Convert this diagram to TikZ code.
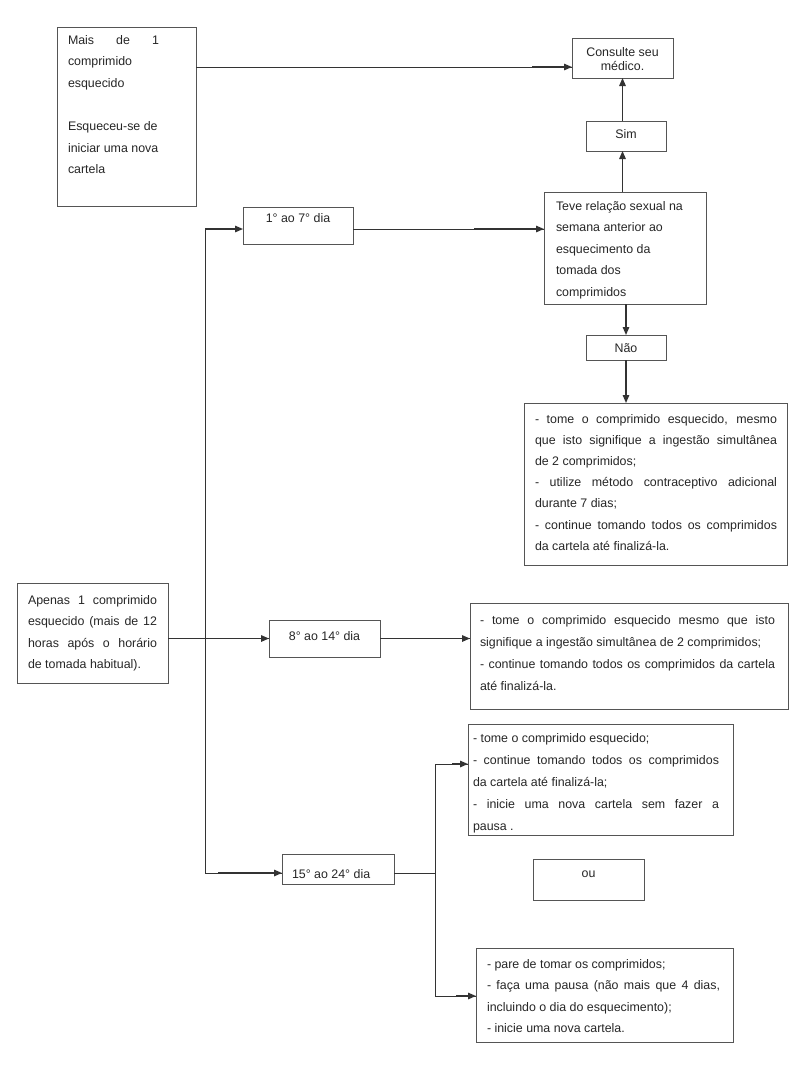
\documentclass[tikz,border=0pt]{standalone}
\usepackage{fontspec}
\setmainfont{Liberation Sans}
\usetikzlibrary{arrows.meta,calc}
\definecolor{txt}{HTML}{262626}
\definecolor{bord}{HTML}{555555}
\definecolor{lnc}{HTML}{333333}
% #1 box width, #2 box height, #3 left pad, #4 text width, #5 first baseline, #6 text
\newcommand\bxl[6]{\parbox[c][#2pt][t]{#1pt}{\hspace*{#3pt}\parbox[t]{#4pt}{\rule{0pt}{#5pt}#6}}}
\tikzset{
  box/.style={draw=bord, line width=0.8pt, inner sep=0pt, outer sep=0pt, anchor=north west,
    text=txt, font=\fontsize{12.4pt}{21.6pt}\selectfont},
  ln/.style={draw=lnc, line width=0.8pt},
  thk/.style={draw=lnc, line width=1.4pt, -{Triangle[length=8pt,width=6.5pt]}}
}
\begin{document}
\begin{tikzpicture}[x=1pt,y=-1pt]
\fill[white] (0,0) rectangle (800,1077);
\useasboundingbox (0,0) rectangle (800,1077);

\node[box] (A) at (57,27) {\bxl{139}{179}{11}{91}{17}{Mais de 1\linebreak comprimido\\ esquecido\\ \mbox{}\\ Esqueceu-se de\\ iniciar uma nova\\ cartela}};
\node[box] (C) at (572,38) {\bxl{101}{40}{0}{101}{18}{\centering\fontsize{12.4pt}{14pt}\selectfont Consulte seu\\ médico.}};
\node[box] (S) at (586,121) {\bxl{80}{30}{0}{80}{17}{\centering Sim}};
\node[box] (T) at (544,192) {\bxl{162}{112}{12}{142}{18}{Teve relação sexual na\\ semana anterior ao\\ esquecimento da\\ tomada dos\\ comprimidos}};
\node[box] (D1) at (243,207) {\bxl{110}{37}{0}{110}{15}{\centering 1° ao 7° dia}};
\node[box] (N) at (586,335) {\bxl{80}{25}{0}{80}{17}{\centering Não}};
\node[box] (B) at (524,403) {\bxl{263}{162}{11}{242}{20}{\fontsize{12.4pt}{21.2pt}\selectfont - tome o comprimido esquecido, mesmo\linebreak que isto signifique a ingestão simultânea\linebreak de 2 comprimidos;\\ - utilize método contraceptivo adicional\linebreak durante 7 dias;\\ - continue tomando todos os comprimidos\linebreak da cartela até finalizá-la.}};
\node[box] (P) at (17,583) {\bxl{151}{100}{11}{129}{21}{Apenas 1 comprimido\linebreak esquecido (mais de 12\linebreak horas após o horário\linebreak de tomada habitual).}};
\node[box] (D2) at (269,620) {\bxl{111}{37}{0}{111}{20}{\centering 8° ao 14° dia}};
\node[box] (E) at (470,603) {\bxl{318}{106}{10}{295}{21}{\fontsize{12.4pt}{22pt}\selectfont - tome o comprimido esquecido mesmo que isto\linebreak signifique a ingestão simultânea de 2 comprimidos;\\ - continue tomando todos os comprimidos da cartela\linebreak até finalizá-la.}};
\node[box] (D3) at (282,854) {\bxl{112}{30}{10}{100}{24}{15° ao 24° dia}};
\node[box] (F1) at (468,724) {\bxl{265}{111}{5}{246}{18}{\fontsize{12.4pt}{22pt}\selectfont - tome o comprimido esquecido;\\ - continue tomando todos os comprimidos\linebreak da cartela até finalizá-la;\\ - inicie uma nova cartela sem fazer a\linebreak pausa .}};
\node[box] (O) at (533,859) {\bxl{111}{41}{0}{111}{18}{\centering ou}};
\node[box] (F2) at (476,948) {\bxl{257}{94}{11}{233}{20}{- pare de tomar os comprimidos;\\ - faça uma pausa (não mais que 4 dias,\linebreak incluindo o dia do esquecimento);\\ - inicie uma nova cartela.}};

% A -> Consulte
\coordinate (a1) at ([yshift=-40pt]A.north east);
\coordinate (a2) at (a1 -| C.west);
\draw[ln] (a1) -- (a2);
\draw[thk] ([xshift=-40pt]a2) -- (a2);
% Sim -> Consulte, Teve -> Sim
\draw[thk] (S.north -| C.south) -- (C.south);
\draw[thk] (T.north -| C.south) -- (S.south -| C.south);
% Teve -> Nao -> box
\draw[thk] (T.south -| N.north) -- (N.north);
\draw[thk] (N.south) -- (N.south |- B.north);
% 1 ao 7 -> Teve
\coordinate (d1) at ([yshift=-3.5pt]D1.east);
\coordinate (t1) at (d1 -| T.west);
\draw[ln] (d1) -- (t1);
\draw[thk] ([xshift=-70pt]t1) -- (t1);
% left trunk
\coordinate (vt) at (205,229);
\coordinate (vb) at (205,873);
\coordinate (vd1) at (vt -| D1.west);
\coordinate (vd3) at (vb -| D3.west);
\draw[ln] (vb) -- (vt);
\draw[thk] (vt) -- (vd1);
\draw[ln] (vb) -- (vd3);
\draw[thk] ([xshift=-64pt]vd3) -- (vd3);
% Apenas -> 8 ao 14
\coordinate (p2) at (D2.west);
\coordinate (p1) at (P.east |- p2);
\draw[ln] (p1) -- (p2);
\draw[thk] ([xshift=-54pt]p2) -- (p2);
% 8 ao 14 -> E
\coordinate (e1) at (D2.east -| E.west);
\draw[ln] (D2.east) -- (e1);
\draw[thk] ([xshift=-51pt]e1) -- (e1);
% 15 ao 24 -> options
\coordinate (j) at (435,873);
\coordinate (jt) at (435,764);
\coordinate (jb) at (435,996);
\coordinate (f1) at (jt -| F1.west);
\coordinate (f2) at (jb -| F2.west);
\draw[ln] (j -| D3.east) -- (j);
\draw[ln] (f1) -- (jt) -- (jb) -- (f2);
\draw[thk] ([xshift=-16pt]f1) -- (f1);
\draw[thk] ([xshift=-20pt]f2) -- (f2);
\end{tikzpicture}
\end{document}
